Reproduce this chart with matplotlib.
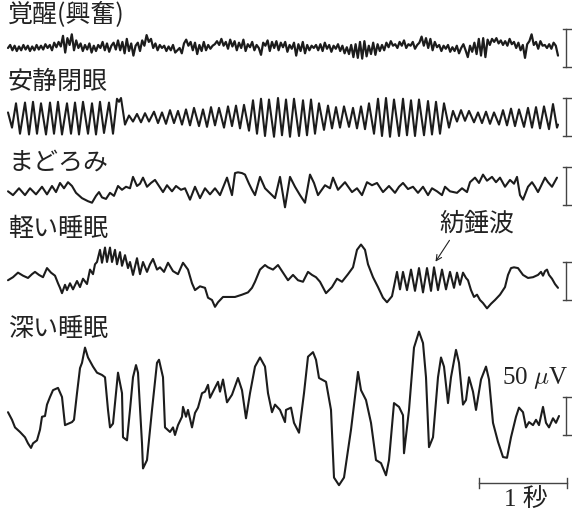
import numpy as np
import matplotlib.pyplot as plt

plt.rcParams['font.family'] = ['Noto Sans CJK JP', 'DejaVu Sans']
plt.rcParams['mathtext.fontset'] = 'cm'

# stage names, top to bottom
stages = ['覚醒(興奮)', '安静閉眼', 'まどろみ', '軽い睡眠', '深い睡眠']

# awake trace, sampled at 40 Hz (uV)
awake_fs = 40
awake_uv = [
    0, 4, -3, 3, -4, 2, -3, 4, -2, 3,
    -4, 2, -3, 4, -2, 3, -2, 5, 0, 4,
    -3, 7, 1, 8, 2, 16, -6, 13, 4, 18,
    -3, 10, 0, 6, -4, 4, -2, 6, -6, 3,
    -4, 4, 0, 8, -3, 6, -5, 3, 7, -2,
    10, -3, 8, -7, 12, -4, 6, -10, 3, 7,
    -4, 10, 3, 17, 8, 12, 0, 6, -3, 4,
    0, 3, -4, 2, -3, 4, -6, -3, 0, -7,
    6, 11, 3, 8, -3, 7, -8, 4, -4, 8,
    -3, 4, -1, 3, 5, 9, 4, 12, 3, 8,
    -1, 11, 2, 9, -3, 7, 0, 11, -4, 5,
    1, 8, -3, 4, 0, -9, 7, 3, 10, -4,
    8, 0, 9, -3, 7, 1, 8, -5, 4, -1,
    7, -10, 5, -4, 8, -7, 4, -3, 3, 0,
    4, -3, 5, -4, 7, -1, 4, -5, 3, -1,
    5, -4, 3, -7, 1, -8, 4, -12, 5, -13,
    8, -14, 9, -11, 3, -8, 7, -9, 5, -4,
    4, -3, 7, 1, 9, 3, 5, 0, 8, 3,
    10, 0, 5, 3, 8, -1, 4, 7, 15, 3,
    13, 0, 12, -3, 8, 1, 4, -4, 3, -1,
    4, -5, 1, -4, 3, -7, 0, 5, -3, -12,
    3, -5, 7, -8, 12, -10, 13, -12, 11, 4,
    12, 8, 13, 6, 10, 4, 9, 3, 12, 5,
    8, 0, 7, -3, 4, -13, 5, 9, 18, 4,
    8, -1, 9, 3, 4, 0, 5, -1, 7, 3,
    -10,
]

# other traces: turning points
# sample index at 88 Hz, amplitude in uV
fs = 88

closed_n = [
    0, 4, 8, 12, 17, 21, 25, 29, 33, 38,
    42, 46, 50, 54, 59, 63, 67, 71, 75, 80,
    84, 88, 92, 96, 101, 105, 109, 111, 113, 117,
    121, 125,
    129, 133, 137, 141, 146, 150, 154, 158, 162, 166, 170, 174, 178,
    182, 186, 191, 195, 199, 203, 207, 211, 216, 220,
    224, 228, 232, 236, 241, 245, 249, 253, 257, 261,
    266, 270, 274, 278, 282, 286, 291, 295, 299, 303,
    307, 311, 316, 320, 324, 328, 332, 336, 341, 345,
    349, 353, 357, 361, 366,
    370, 374, 378, 382, 386, 391, 395, 399, 403, 407,
    411, 416, 420, 424, 428, 432, 436,
    441, 445, 449, 453, 457, 461, 466, 470, 474, 478,
    482, 486, 491,
    495, 499, 503, 507, 511, 516, 520, 524, 528, 532,
    536, 541, 545, 549, 550,
]
closed_uv = [
    6, -14, 18, -22, 19, -23, 20, -22, 18, -23,
    19, -22, 20, -23, 18, -22, 19, -23, 20, -22,
    18, -23, 20, -21, 19, -22, 24, 20, 25, -10,
    2, -6,
    4, -7, 5, -6, 7, -8, 6, -9, 9, -8, 8, -10, 10,
    -11, 12, -12, 10, -13, 13, -11, 12, -14, 14,
    -12, 15, -15, 16, -18, 22, -22, 24, -25, 23,
    -26, 25, -24, 23, -26, 24, -25, 22, -24, 23,
    -22, 18, -17, 15, -15, 13, -14, 14, -13, 12,
    -15, 14, -16, 18, -22,
    24, -25, 25, -26, 23, -25, 24, -24, 22, -25,
    23, -24, 21, -23, 20, -22, 18,
    -14, 8, -6, 9, -5, 8, -7, 6, -8, 7,
    -9, 6, -10,
    9, -11, 11, -12, 10, -13, 12, -14, 13, -15,
    14, -16, 17, -14, -10,
]

drowsy_n = [
    0, 5, 11, 17, 22, 28, 34, 39, 44, 48,
    52, 56, 60, 64, 68, 74, 80, 84, 88, 91,
    94, 98, 102, 106, 110, 114, 118, 122, 125, 129,
    132, 135, 139, 143, 147, 151, 155, 159, 164, 168,
    173, 177, 182, 187, 192, 197, 202, 207, 212, 219,
    224, 227, 230, 234, 237, 241, 244, 247, 252, 257,
    264, 267, 272, 277, 282, 287, 292, 297, 302, 306,
    310, 317, 322, 325, 330, 337, 344, 349, 354, 359,
    364, 369, 375, 381, 387, 391, 395, 400, 405, 410,
    415, 420, 424, 429, 434, 437, 442, 449, 454, 459,
    462, 467, 471, 475, 479, 484, 488, 492, 497, 502,
    506, 509, 512, 515, 520, 524, 527, 530, 533, 537,
    540, 544, 549,
]
drowsy_uv = [
    -7, -12, -3, -12, -3, -11, -1, -11, 0, -8,
    4, -3, 5, 0, -9, -16, -20, -22, -13, -8,
    -15, -17, -9, -13, 0, -5, -1, -3, 12, 0,
    3, 11, -1, 4, 8, 0, -8, 1, -7, 0,
    -5, -3, -18, -1, -16, -3, -11, -3, -12, 11,
    -12, 17, 18, 17, 15, 3, -5, -12, 12, -3,
    -12, -16, 12, -28, 12, -1, -12, -22, 15, 4,
    -12, 1, -3, 11, -5, 5, -8, -3, -12, 5,
    1, 4, -8, 0, -9, -1, 4, -4, -1, -9,
    -1, -12, -3, -7, -12, -1, -7, -9, -3, -8,
    5, 11, 4, 15, 7, 12, 5, 11, -1, 8,
    3, 12, -12, -18, -1, 5, -1, -8, 0, 11,
    5, -1, 11,
]

light_n = [
    0, 5, 10, 15, 20, 24, 27, 31, 35, 39,
    43, 47, 50, 52, 54, 57, 59, 62, 65, 69,
    72, 75, 79, 82, 85, 87,
    89, 92, 94, 97, 99, 102, 104, 107, 109, 112,
    114, 117, 120, 122, 125, 129, 132, 135, 139, 142,
    145, 149, 152, 156, 160, 165, 170, 175, 180, 184,
    187, 192, 197, 200, 204, 207, 210, 215, 227, 234,
    240, 244, 247, 252, 257, 260, 265, 270, 275, 280,
    285, 290, 295, 300, 304, 308, 312, 318, 324, 329,
    334, 340, 345, 349, 353, 357, 360, 365, 370, 375,
    379, 384, 387,
    389, 392, 395, 399, 403, 407, 411, 415, 419, 423,
    426, 430, 434, 438, 442, 446, 449, 452, 455, 458,
    460, 463, 466, 469, 472, 475, 479, 483, 487, 492,
    497, 500, 503, 506, 510, 515, 520, 525, 530, 533,
    535, 537, 539, 541, 544, 547, 550,
]
light_uv = [
    1, 5, 11, 7, 4, 9, 12, 8, 5, 17,
    11, 7, -3, -9, -16, -5, -12, -3, -11, 0,
    -8, 3, -4, 15, 9, 22,
    25, 41, 24, 44, 25, 44, 25, 41, 22, 38,
    20, 34, 17, 25, 8, 30, 9, 25, 12, 22,
    29, 15, 18, 12, 24, 13, 9, 24, 15, -3,
    -12, -7, -9, -22, -25, -34, -28, -21, -21, -18,
    -15, -9, -1, 15, 21, 18, 15, 21, 11, 1,
    8, 1, -1, 12, 8, 5, -1, -16, -8, 3,
    -1, 9, 18, 41, 48, 41, 22, 5, -8, -22,
    -28, -20, -1,
    12, -11, 12, -12, 15, -13, 17, -15, 17, -13,
    18, -12, 15, -11, 12, -9, 11, -5, 11, 4,
    1, -12, -21, -18, -25, -29, -36, -30, -25, -18,
    -8, 8, 17, 18, 17, 8, 4, 5, 8, 12,
    7, 13, 15, 8, 3, -4, -9,
]

deep_n = [
    0, 4, 7, 12, 17, 20, 23, 25, 29, 32,
    34, 37, 39, 42, 45, 50, 54, 57, 64, 66,
    69, 72, 74, 77, 80, 85, 89, 94, 97, 100,
    102, 105, 107, 110, 114, 115, 119, 122, 125, 128,
    130, 134, 135, 139, 144, 149, 151, 155, 157, 162,
    165, 167, 170, 174, 175, 178, 180, 184, 187, 190,
    194, 197, 200, 202, 205, 210, 212, 215, 219, 224,
    230, 234, 238, 242, 247, 252, 257, 260, 264, 267,
    272, 277, 278, 283, 286, 291, 296, 300, 305, 308,
    311, 318, 323, 326, 331, 336, 343, 350, 353, 358,
    363, 368, 373, 378, 381, 386, 391, 395, 396, 401,
    406, 411, 415, 418, 421, 425, 430, 433, 436, 440,
    443, 448, 451, 455, 458, 461, 465, 468, 473, 478,
    481, 485, 490, 495, 499, 503, 508, 511, 515, 518,
    521, 525, 528, 531, 535, 538, 541, 545, 548, 551,
]
deep_uv = [
    5, -5, -15, -21, -28, -36, -42, -36, -32, -18,
    -1, 0, 15, 25, 34, 37, 25, -12, -8, -5,
    30, 63, 70, 90, 77, 65, 57, 54, 51, 8,
    -15, -10, 17, 57, 30, -28, -32, 8, 51, 67,
    57, -36, -69, -58, 8, 70, 74, 51, -15, -21,
    -15, -25, -12, -1, 12, -1, 8, -15, 4, 11,
    30, 32, 41, 24, 32, 45, 32, 48, 18, 28,
    50, 34, -3, 30, 65, 77, 65, 30, 5, 15,
    8, -8, 8, 11, -9, -22, 30, 78, 84, 74,
    50, 45, 8, -81, -91, -81, -18, 58, 34, 21,
    -9, -58, -62, -78, -58, 17, 12, 1, -49, 8,
    90, 111, 96, 51, -41, -28, 51, 77, 65, 17,
    51, 87, 70, 15, 21, 51, 32, 8, 48, 65,
    48, -9, -34, -54, -55, -28, -1, 11, 5, -15,
    -8, -12, -5, -12, 12, -9, -15, -3, -9, 0,
]

# layout: pixels of the 572x513 canvas
W, H = 572, 513
px_per_s = 88
px_per_uv = 0.76
row_y = [48, 117, 186, 281, 416]        # trace baselines (px from top)
label_y = [15, 82, 163, 229, 329]       # stage label centres (px from top)
line_w = [1.6, 1.5, 1.5, 1.5, 1.5]

fig = plt.figure(figsize=(W / 100, H / 100), dpi=100)
ax = fig.add_axes([0, 0, 1, 1])
ax.set_xlim(-8 / px_per_s, (W - 8) / px_per_s)
ax.set_ylim(-H / px_per_uv, 0)
ax.axis('off')

traces = [
    (np.arange(len(awake_uv)) / awake_fs, np.array(awake_uv)),
    (np.array(closed_n) / fs, np.array(closed_uv)),
    (np.array(drowsy_n) / fs, np.array(drowsy_uv)),
    (np.array(light_n) / fs, np.array(light_uv)),
    (np.array(deep_n) / fs, np.array(deep_uv)),
]

ink = '#1c1c1c'
bar_x = (566 - 8) / px_per_s
cap0, cap1 = (563 - 8) / px_per_s, (572 - 8) / px_per_s
for (t, v), yp, ly, lw, name in zip(traces, row_y, label_y, line_w, stages):
    base = -yp / px_per_uv
    ax.plot(t, v + base, color=ink, lw=lw, solid_joinstyle='round',
            solid_capstyle='round')
    # 50 uV calibration bar
    ax.plot([bar_x, bar_x], [base - 25, base + 25], color='#444444', lw=1)
    ax.plot([cap0, cap1], [base + 25, base + 25], color='#444444', lw=1)
    ax.plot([cap0, cap1], [base - 25, base - 25], color='#444444', lw=1)
    fig.text(8 / W, 1 - ly / H, name, fontsize=18, color='#222222',
             ha='left', va='center')

# 1 second bar
sb_y = -483 / px_per_uv
sb0 = (479 - 8) / px_per_s
ax.plot([sb0, sb0 + 1], [sb_y, sb_y], color='#444444', lw=1)
ax.plot([sb0, sb0], [sb_y - 6, sb_y + 6], color='#444444', lw=1)
ax.plot([sb0 + 1, sb0 + 1], [sb_y - 6, sb_y + 6], color='#444444', lw=1)

fig.text(526 / W, 1 - 499 / H, '1 秒', fontsize=18, color='#222222',
         family=['Liberation Serif', 'Noto Sans CJK JP'], ha='center', va='center')
fig.text(535 / W, 1 - 378 / H, r'50 $\mu$V', fontsize=18, color='#222222',
         family=['Liberation Serif'], ha='center', va='center')

# spindle label
fig.text(477 / W, 1 - 224 / H, '紡錘波', fontsize=18, color='#222222',
         ha='center', va='center')
ax.annotate('', xy=(434, H - 264), xytext=(451, H - 238),
            xycoords='figure pixels', textcoords='figure pixels',
            arrowprops=dict(arrowstyle='->', lw=0.8, color='#222222'))

fig.savefig('out.png', dpi=100)
